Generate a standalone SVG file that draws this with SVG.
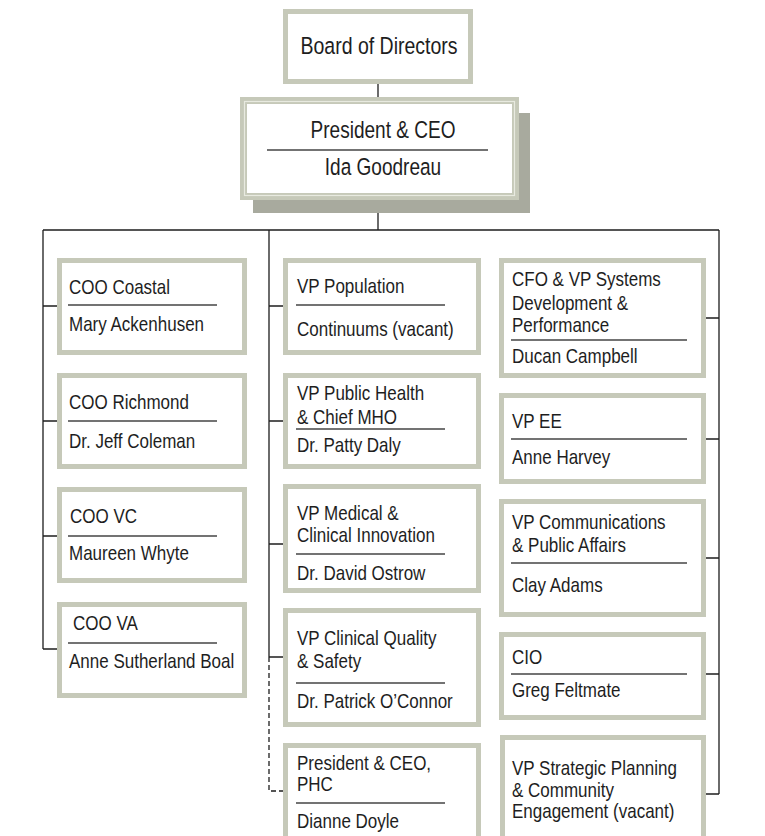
<svg xmlns="http://www.w3.org/2000/svg" width="765" height="836" viewBox="0 0 765 836">
<style>
.box{fill:#fff;stroke:#c6c9b9;stroke-width:5}
.t{font-family:"Liberation Sans",Arial,sans-serif;font-size:20px;fill:#1e1e1e}
.big{font-size:23.5px}
.dv{stroke:#444;stroke-width:1.3}
.c{stroke:#1e1e1e;stroke-width:1.3;fill:none}
.d{stroke:#1e1e1e;stroke-width:1.3;fill:none;stroke-dasharray:5 3}
</style>
<rect width="765" height="836" fill="#fff"/>
<g id="connectors">
<path class="c" d="M378 84V97M378 200V230M43 230H719M43 230V649M43 306H57M43 421H57M43 536H57M43 649H57M269 230V657M269 306H283M269 421H283M269 544H283M269 657H283M719 230V794M706 318H719M706 439H719M706 558H719M706 674H719M706 794H719"/>
<path class="d" d="M269 657V791H283"/>
</g>
<g id="board">
<rect class="box" x="285.5" y="11.5" width="185" height="70"/>
<text class="t big" transform="translate(379 54) scale(0.83 1)" text-anchor="middle">Board of Directors</text>
</g>
<g id="president">
<rect x="253" y="113" width="277" height="100" fill="#a8aa9e"/>
<rect x="240" y="97" width="279" height="103" fill="#c6c9b9"/>
<rect x="244.5" y="101.5" width="270" height="94" fill="none" stroke="#e8eae0" stroke-width="1.2"/>
<rect x="247" y="104" width="265" height="89" fill="#fff"/>
<text class="t big" transform="translate(383 138) scale(0.81 1)" text-anchor="middle">President &amp; CEO</text>
<line class="dv" x1="267" y1="150" x2="488" y2="150"/>
<text class="t big" transform="translate(383 175) scale(0.81 1)" text-anchor="middle">Ida Goodreau</text>
</g>
<g id="coo-coastal">
<rect class="box" x="59.5" y="260.5" width="185" height="92"/>
<text class="t" transform="translate(69 294) scale(0.85 1)">COO Coastal</text>
<line class="dv" x1="68" y1="305" x2="217" y2="305"/>
<text class="t" transform="translate(69 331) scale(0.85 1)">Mary Ackenhusen</text>
</g>
<g id="coo-richmond">
<rect class="box" x="59.5" y="375.5" width="185" height="91"/>
<text class="t" transform="translate(69 409) scale(0.85 1)">COO Richmond</text>
<line class="dv" x1="68" y1="421" x2="217" y2="421"/>
<text class="t" transform="translate(69 448) scale(0.85 1)">Dr. Jeff Coleman</text>
</g>
<g id="coo-vc">
<rect class="box" x="59.5" y="489.5" width="185" height="91"/>
<text class="t" transform="translate(70 523) scale(0.85 1)">COO VC</text>
<line class="dv" x1="68" y1="536" x2="217" y2="536"/>
<text class="t" transform="translate(69 560) scale(0.85 1)">Maureen Whyte</text>
</g>
<g id="coo-va">
<rect class="box" x="59.5" y="604.5" width="185" height="91"/>
<text class="t" transform="translate(73 630) scale(0.85 1)">COO VA</text>
<line class="dv" x1="68" y1="643" x2="217" y2="643"/>
<text class="t" transform="translate(69 668) scale(0.85 1)">Anne Sutherland Boal</text>
</g>
<g id="vp-population">
<rect class="box" x="285.5" y="260.5" width="193" height="92"/>
<text class="t" transform="translate(297 293) scale(0.85 1)">VP Population</text>
<line class="dv" x1="296" y1="305" x2="445" y2="305"/>
<text class="t" transform="translate(297 336) scale(0.85 1)">Continuums (vacant)</text>
</g>
<g id="vp-public-health">
<rect class="box" x="285.5" y="375.5" width="193" height="91"/>
<text class="t" transform="translate(297 400) scale(0.85 1)">VP Public Health</text>
<text class="t" transform="translate(297 424) scale(0.85 1)">&amp; Chief MHO</text>
<line class="dv" x1="296" y1="429" x2="445" y2="429"/>
<text class="t" transform="translate(297 452) scale(0.85 1)">Dr. Patty Daly</text>
</g>
<g id="vp-medical">
<rect class="box" x="285.5" y="486.5" width="193" height="104"/>
<text class="t" transform="translate(297 520) scale(0.85 1)">VP Medical &amp;</text>
<text class="t" transform="translate(297 542) scale(0.85 1)">Clinical Innovation</text>
<line class="dv" x1="296" y1="554" x2="445" y2="554"/>
<text class="t" transform="translate(297 580) scale(0.85 1)">Dr. David Ostrow</text>
</g>
<g id="vp-clinical-quality">
<rect class="box" x="285.5" y="610.5" width="193" height="114"/>
<text class="t" transform="translate(297 645) scale(0.85 1)">VP Clinical Quality</text>
<text class="t" transform="translate(297 668) scale(0.85 1)">&amp; Safety</text>
<line class="dv" x1="296" y1="683" x2="445" y2="683"/>
<text class="t" transform="translate(297 708) scale(0.85 1)">Dr. Patrick O’Connor</text>
</g>
<g id="president-phc">
<rect class="box" x="285.5" y="745.5" width="193" height="110"/>
<text class="t" transform="translate(297 770) scale(0.85 1)">President &amp; CEO,</text>
<text class="t" transform="translate(297 791) scale(0.85 1)">PHC</text>
<line class="dv" x1="296" y1="803" x2="445" y2="803"/>
<text class="t" transform="translate(297 828) scale(0.85 1)">Dianne Doyle</text>
</g>
<g id="cfo">
<rect class="box" x="501.5" y="260.5" width="202" height="115"/>
<text class="t" transform="translate(512 286) scale(0.85 1)">CFO &amp; VP Systems</text>
<text class="t" transform="translate(512 310) scale(0.85 1)">Development &amp;</text>
<text class="t" transform="translate(512 332) scale(0.85 1)">Performance</text>
<line class="dv" x1="511" y1="340" x2="687" y2="340"/>
<text class="t" transform="translate(512 363) scale(0.85 1)">Ducan Campbell</text>
</g>
<g id="vp-ee">
<rect class="box" x="501.5" y="395.5" width="202" height="86"/>
<text class="t" transform="translate(512 428) scale(0.85 1)">VP EE</text>
<line class="dv" x1="511" y1="439" x2="687" y2="439"/>
<text class="t" transform="translate(512 464) scale(0.85 1)">Anne Harvey</text>
</g>
<g id="vp-communications">
<rect class="box" x="501.5" y="501.5" width="202" height="113"/>
<text class="t" transform="translate(512 529) scale(0.85 1)">VP Communications</text>
<text class="t" transform="translate(512 552) scale(0.85 1)">&amp; Public Affairs</text>
<line class="dv" x1="511" y1="563" x2="687" y2="563"/>
<text class="t" transform="translate(512 592) scale(0.85 1)">Clay Adams</text>
</g>
<g id="cio">
<rect class="box" x="501.5" y="634.5" width="202" height="83"/>
<text class="t" transform="translate(512 664) scale(0.85 1)">CIO</text>
<line class="dv" x1="511" y1="674" x2="687" y2="674"/>
<text class="t" transform="translate(512 697) scale(0.85 1)">Greg Feltmate</text>
</g>
<g id="vp-strategic">
<rect class="box" x="502.5" y="737.5" width="201" height="118"/>
<text class="t" transform="translate(512 775) scale(0.85 1)">VP Strategic Planning</text>
<text class="t" transform="translate(512 797) scale(0.85 1)">&amp; Community</text>
<text class="t" transform="translate(512 818) scale(0.85 1)">Engagement (vacant)</text>
</g>
</svg>
